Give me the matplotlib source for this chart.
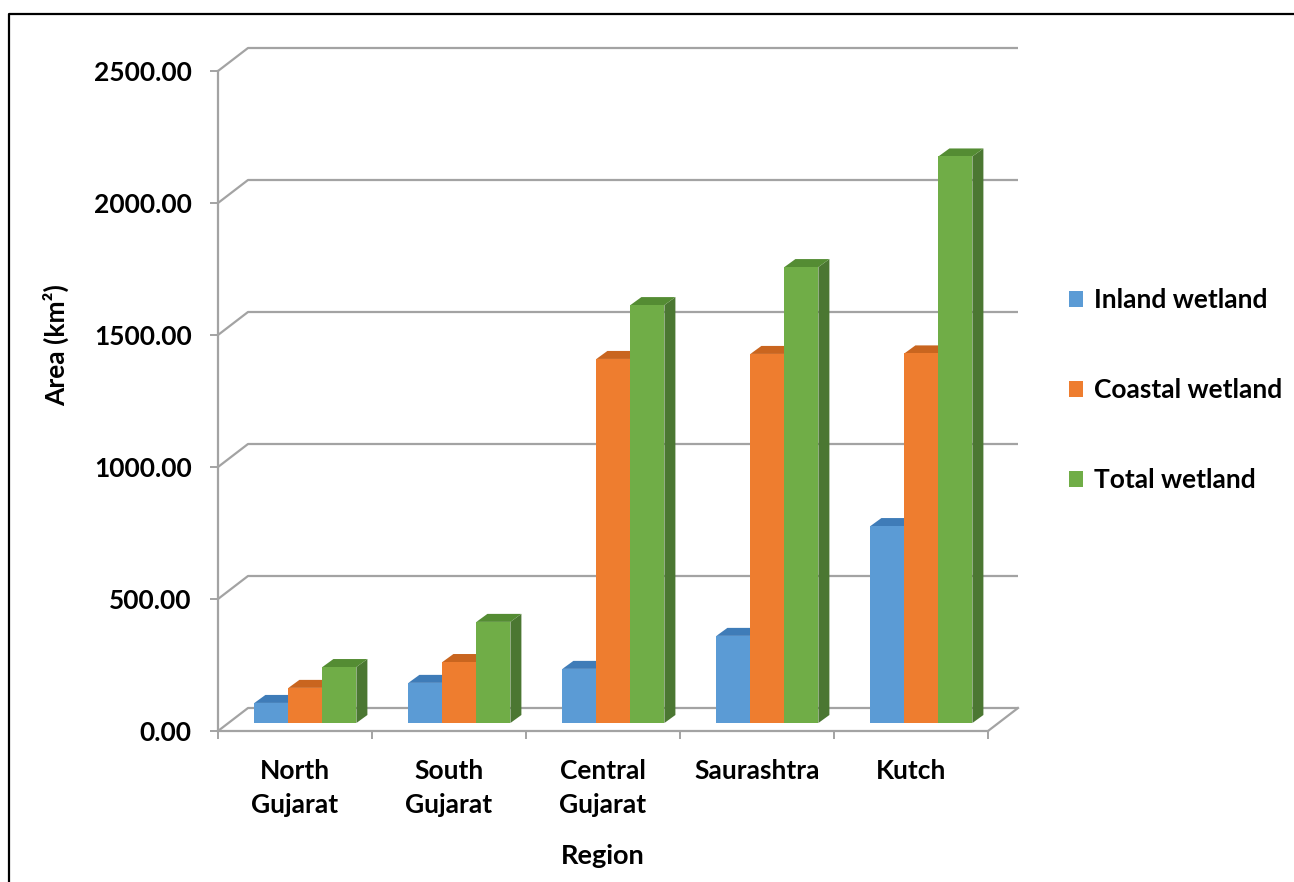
import numpy as np
import matplotlib
matplotlib.use("Agg")
import matplotlib.pyplot as plt
from matplotlib.patches import Polygon, Patch
from matplotlib.lines import Line2D

# ---- data -------------------------------------------------------------
categories = ["North\nGujarat", "South\nGujarat", "Central\nGujarat", "Saurashtra", "Kutch"]
series_names = ["Inland wetland", "Coastal wetland", "Total wetland"]
inland = [76, 152, 205, 330, 746]
coastal = [133, 231, 1379, 1398, 1400]
total = [212, 383, 1583, 1727, 2146]
yticks = [0, 500, 1000, 1500, 2000, 2500]

# ---- style ------------------------------------------------------------
plt.rcParams["font.family"] = ["Lato", "DejaVu Sans"]
plt.rcParams["font.weight"] = "bold"
FS = 19
GRID = "#a3a3a3"
front_cols = ["#5b9bd5", "#ee7d2f", "#70ad47"]
top_cols = ["#3f7cb8", "#c9651f", "#548c33"]
side_cols = ["#41719c", "#b85f1f", "#4b7732"]

W, H = 1294, 882
fig = plt.figure(figsize=(W / 100, H / 100), dpi=100)
ax = fig.add_axes([218 / W, (H - 731) / H, 770 / W, 660 / H])
ax.set_xlim(0, 5)
ax.set_ylim(0, 2500)

# pixel -> data conversions for the oblique depth effect
PX_CAT = 770 / 5          # pixels per category
PX_VAL = 660 / 2500       # pixels per value unit


def ddx(px):
    return px / PX_CAT


def ddy(px):
    return px / PX_VAL


WALL_DX, WALL_DY = ddx(30), ddy(23)   # back wall offset

# ---- back wall gridlines and floor -------------------------------------
for v in yticks:
    ax.plot([0, WALL_DX, 5 + WALL_DX], [v, v + WALL_DY, v + WALL_DY],
            color=GRID, lw=1.6, clip_on=False, zorder=1, solid_capstyle="butt")
ax.plot([5, 5 + WALL_DX], [0, WALL_DY], color=GRID, lw=1.6, clip_on=False, zorder=1)

# ---- 3D-looking bars ---------------------------------------------------
BAR_PX = 34
bar_w = ddx(BAR_PX)
depth_dx, depth_dy = ddx(11), ddy(8)
base_dx, base_dy = ddx(10.4), ddy(8)      # bars sit partway back on the floor
group_off = ddx(26)

z = 3
for i in range(len(categories)):
    for s, vals in enumerate([inland, coastal, total]):
        x0 = i + base_dx + group_off + s * bar_w
        y0 = base_dy
        val = vals[i]
        y1 = y0 + val
        # side face
        ax.add_patch(Polygon([(x0 + bar_w, y0), (x0 + bar_w + depth_dx, y0 + depth_dy),
                              (x0 + bar_w + depth_dx, y1 + depth_dy), (x0 + bar_w, y1)],
                             closed=True, fc=side_cols[s], ec="none", clip_on=False, zorder=z))
        # top face
        ax.add_patch(Polygon([(x0, y1), (x0 + bar_w, y1),
                              (x0 + bar_w + depth_dx, y1 + depth_dy), (x0 + depth_dx, y1 + depth_dy)],
                             closed=True, fc=top_cols[s], ec="none", clip_on=False, zorder=z))
        # front face
        ax.bar(x0, val, width=bar_w, bottom=y0, align="edge", color=front_cols[s],
               edgecolor="none", clip_on=False, zorder=z + 0.5)
        z += 1

# ---- axes, ticks and labels -------------------------------------------
for side in ["top", "right"]:
    ax.spines[side].set_visible(False)
for side in ["left", "bottom"]:
    ax.spines[side].set_color(GRID)
    ax.spines[side].set_linewidth(1.6)
    ax.spines[side].set_zorder(2)

ax.set_yticks(yticks)
ax.set_yticklabels([f"{v:.2f}" for v in yticks])
ax.tick_params(axis="y", length=6, width=1.4, color=GRID, pad=13, labelsize=FS)

ax.set_xticks(range(6))
ax.set_xticklabels([""] * 6)
ax.set_xticks(np.arange(5) + 0.5, minor=True)
ax.set_xticklabels(categories, minor=True, linespacing=1.5)
ax.tick_params(axis="x", which="major", length=6, width=1.4, color=GRID)
ax.tick_params(axis="x", which="minor", length=0, pad=20, labelsize=FS)

ax.set_ylabel("Area (km²)", fontsize=FS, fontweight="bold")
ax.yaxis.set_label_coords(-0.21, 0.585)
ax.yaxis.label.set_va("center")
ax.set_xlabel("Region", fontsize=FS + 0.5, fontweight="bold")
ax.xaxis.set_label_coords(0.5, -0.19)
ax.xaxis.label.set_va("center")

# ---- legend -----------------------------------------------------------
handles = [Patch(fc=c, ec="none") for c in front_cols]
fig.legend(handles, series_names, loc="center left",
           bbox_to_anchor=(1045 / W, 1 - 390 / H), frameon=False,
           fontsize=FS, handlelength=0.55, handleheight=0.55,
           handletextpad=0.4, labelspacing=2.5)

# ---- outer frame ------------------------------------------------------
fig.add_artist(Line2D([9 / W, 9 / W, 1.0], [0.0, 1 - 14 / H, 1 - 14 / H],
                      transform=fig.transFigure, color="black", lw=1.6))

fig.savefig("out.png", dpi=100, facecolor="white")
